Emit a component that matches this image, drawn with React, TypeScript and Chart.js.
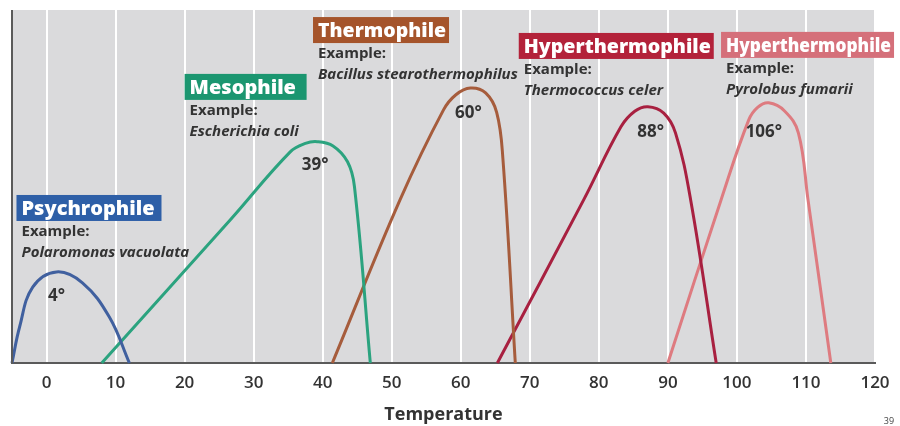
import React, { useEffect, useRef } from "react";
import { Chart, registerables } from "chart.js";

Chart.register(...registerables);

// ---- data ----
const tickValues = [0, 10, 20, 30, 40, 50, 60, 70, 80, 90, 100, 110, 120];

const psychroT = [-5, -3.9, -2.0, 1.45, 5.2, 9.1, 12.0];
const psychroV = [0, 10.2, 21.5, 25.8, 22.7, 13.0, 0];

const mesoT = [8.0, 26.6, 35.3, 37.5, 39.2, 41.5, 43.6, 44.6, 46.9];
const mesoV = [0, 40.5, 59.8, 62.2, 62.7, 61.5, 57.0, 50.0, 0];

const thermoT = [41.4, 51.2, 57.5, 59.3, 61.4, 63.6, 65.2, 66.1, 67.9];
const thermoV = [0, 46.2, 71.7, 76.0, 77.9, 76.5, 71.0, 58.0, 0];

const hyper1T = [65.3, 77.8, 83.2, 85.2, 87.1, 89.4, 91.1, 93.3, 97.0];
const hyper1V = [0, 46.2, 66.9, 71.3, 72.6, 70.8, 65.2, 46.2, 0];

const hyper2T = [90.0, 97.7, 101.7, 103.0, 104.6, 106.9, 108.9, 110.3, 113.6];
const hyper2V = [0, 46.2, 68.8, 72.4, 73.7, 71.4, 65.2, 46.2, 0];

const groupNames = ["Psychrophile", "Mesophile", "Thermophile", "Hyperthermophile", "Hyperthermophile"];
const speciesNames = ["Polaromonas vacuolata", "Escherichia coli", "Bacillus stearothermophilus", "Thermococcus celer", "Pyrolobus fumarii"];
const optimumLabels = ["4°", "39°", "60°", "88°", "106°"];

// ---- styling / placement (not data) ----
const lineColors = ["#40609f", "#2ba37f", "#a65c3c", "#a82040", "#de7b80"];
const boxColors = ["#2e5fa7", "#1b9670", "#a5542b", "#b3223a", "#d5707a"];
// box top-left anchor in data coordinates [temp, value]
const boxAnchors: [number, number][] = [
  [-4.35, 47.6],
  [20.0, 81.9],
  [38.6, 98.0],
  [68.4, 93.5],
  [97.7, 93.8],
];
const boxWidths = [145, 122, 136, 195, 173];
// optimum label centre in data coordinates
const optAnchors: [number, number][] = [
  [1.45, 19.0],
  [38.9, 56.1],
  [61.1, 70.8],
  [87.5, 65.4],
  [103.9, 65.4],
];

const toPoints = (t: number[], v: number[]) => t.map((x, i) => ({ x, y: v[i] }));

const seriesList = [
  toPoints(psychroT, psychroV),
  toPoints(mesoT, mesoV),
  toPoints(thermoT, thermoV),
  toPoints(hyper1T, hyper1V),
  toPoints(hyper2T, hyper2V),
];

const FONT = "'Open Sans', 'DejaVu Sans', sans-serif";

const decorPlugin = {
  id: "decor",
  beforeDraw(chart: any) {
    const { ctx, chartArea } = chart;
    ctx.save();
    ctx.fillStyle = "#dadadc";
    ctx.fillRect(chartArea.left, chartArea.top, chartArea.right - chartArea.left, chartArea.bottom - chartArea.top);
    ctx.restore();
  },
  afterDraw(chart: any) {
    const { ctx, chartArea, scales } = chart;
    const xs = scales.x;
    const ys = scales.y;
    ctx.save();
    // left axis line
    ctx.strokeStyle = "#5a5a5a";
    ctx.lineWidth = 2;
    ctx.beginPath();
    ctx.moveTo(chartArea.left, chartArea.top);
    ctx.lineTo(chartArea.left, chartArea.bottom);
    ctx.stroke();

    for (let i = 0; i < groupNames.length; i++) {
      const bx = xs.getPixelForValue(boxAnchors[i][0]);
      const by = ys.getPixelForValue(boxAnchors[i][1]);
      const bh = 26;
      ctx.fillStyle = boxColors[i];
      ctx.fillRect(bx, by, boxWidths[i], bh);
      ctx.fillStyle = "#ffffff";
      ctx.font = `800 20px ${FONT}`;
      ctx.textAlign = "left";
      ctx.textBaseline = "middle";
      ctx.fillText(groupNames[i], bx + 5, by + bh / 2 + 1, boxWidths[i] - 8);

      ctx.fillStyle = "#333333";
      ctx.font = `700 15px ${FONT}`;
      ctx.fillText("Example:", bx + 5, by + 37);
      ctx.font = `italic 700 15px ${FONT}`;
      ctx.fillText(speciesNames[i], bx + 5, by + 58);

      const ox = xs.getPixelForValue(optAnchors[i][0]);
      const oy = ys.getPixelForValue(optAnchors[i][1]);
      ctx.textAlign = "center";
      ctx.font = `700 17px ${FONT}`;
      ctx.fillText(optimumLabels[i], ox, oy);
    }

    // page number
    ctx.fillStyle = "#444444";
    ctx.font = `9px ${FONT}`;
    ctx.textAlign = "center";
    ctx.fillText("39", 889, 421);
    ctx.restore();
  },
};

export default function App() {
  const canvasRef = useRef<HTMLCanvasElement | null>(null);

  useEffect(() => {
    if (!canvasRef.current) return;
    const chart = new Chart(canvasRef.current, {
      type: "line",
      data: {
        datasets: seriesList.map((pts, i) => ({
          label: groupNames[i],
          data: pts,
          borderColor: lineColors[i],
          borderWidth: 3,
          pointRadius: 0,
          fill: false,
          tension: 0.4,
          clip: false as any,
        })),
      },
      options: {
        animation: false,
        responsive: false,
        layout: { padding: { left: 12, right: 25, top: 10, bottom: 0 } },
        plugins: {
          legend: { display: false },
          tooltip: { enabled: false },
        },
        scales: {
          x: {
            type: "linear",
            min: -5,
            max: 120,
            afterBuildTicks: (scale: any) => {
              scale.ticks = tickValues.map((v) => ({ value: v }));
            },
            grid: { color: "#ffffff", lineWidth: 2, drawTicks: false },
            border: { display: true, color: "#5a5a5a", width: 2 },
            ticks: {
              padding: 10,
              color: "#333333",
              font: { family: FONT, size: 17, weight: "600" },
              maxRotation: 0,
            },
            title: {
              display: true,
              text: "Temperature",
              color: "#333333",
              font: { family: FONT, size: 18, weight: "bold" },
              padding: { top: 1, bottom: 0 },
            },
          },
          y: {
            display: false,
            min: 0,
            max: 100,
          },
        },
      },
      plugins: [decorPlugin],
    });
    return () => chart.destroy();
  }, []);

  return (
    <div style={{ position: "absolute", left: 0, top: 0, width: 900, height: 426, background: "#ffffff" }}>
      <canvas ref={canvasRef} width={900} height={426} style={{ display: "block" }} />
    </div>
  );
}
